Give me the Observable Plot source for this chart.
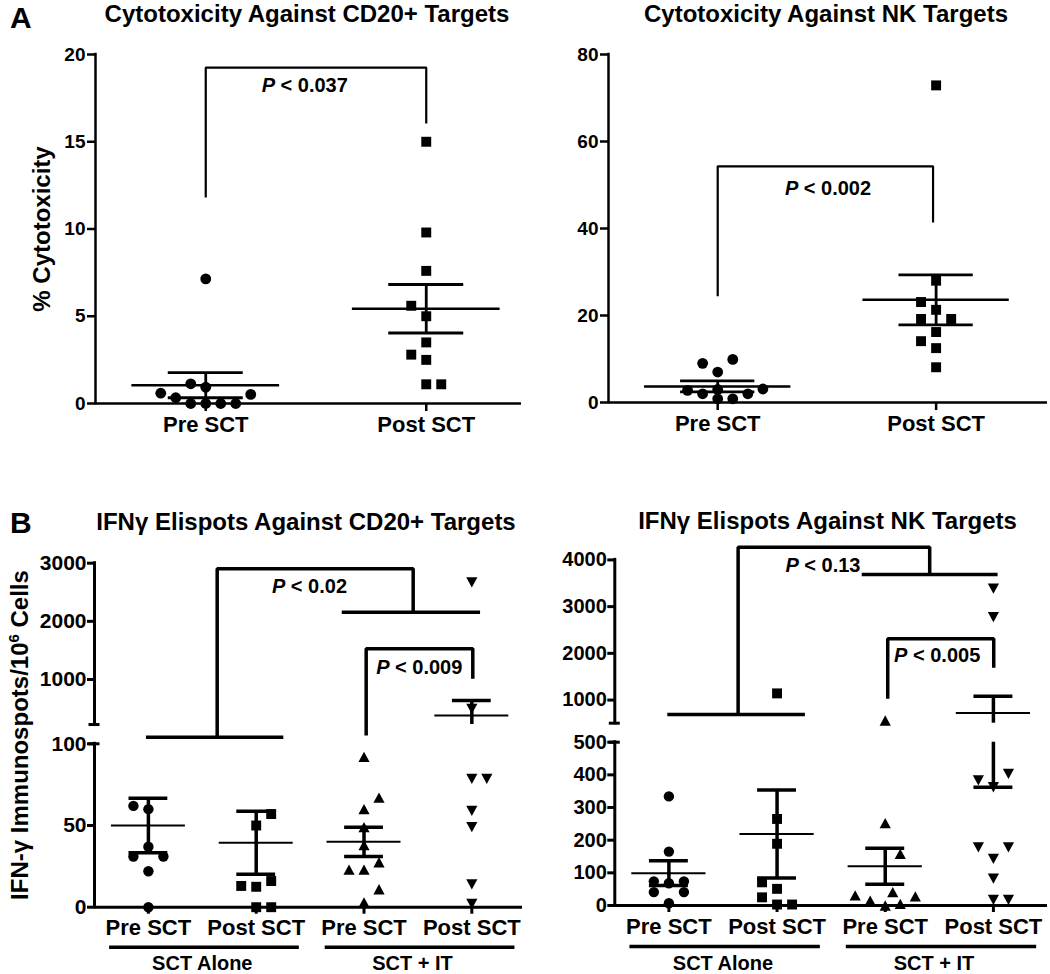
<!DOCTYPE html>
<html><head><meta charset="utf-8">
<script src="https://cdn.jsdelivr.net/npm/d3@7"></script>
<script src="https://cdn.jsdelivr.net/npm/@observablehq/plot@0.6"></script>
<style>
html,body{margin:0;padding:0;background:#fff;}
#fig{position:relative;width:1050px;height:974px;background:#fff;overflow:hidden;font-family:"Liberation Sans",Arial,Helvetica,sans-serif;font-weight:bold;color:#000;}
.lbl{position:absolute;white-space:nowrap;line-height:1;z-index:2;}
.panel{position:absolute;z-index:1;}
.sup{font-size:15px;position:relative;top:-9px;}
</style></head><body><div id="fig"></div>
<script>
// ---------- DATA ----------
const catLabelsA = ["Pre SCT", "Post SCT"];
const catLabelsB = ["Pre SCT", "Post SCT", "Pre SCT", "Post SCT"];
const groupLabelsB = ["SCT Alone", "SCT + IT"];

// A: Cytotoxicity against CD20+ targets (% cytotoxicity)
const cd20CytoValues = [[7.14, 1.13, 0.93, 0.59, 0.52, 0.33, 0, 0, 0, 0], [15.0, 9.8, 7.6, 5.6, 5.0, 3.5, 2.8, 2.5, 1.1, 1.1]];
const cd20CytoSlots  = [[0, -1, 0, -3, 3, -2, -1, 0, 1, 2], [0, 0, 0, -1, 0, 0, -1, 0, 0, 1]];
const cd20CytoMean = [1.05, 5.43];
const cd20CytoSem  = [0.72, 1.39];
const cd20CytoTicks = [0, 5, 10, 15, 20];
const cd20CytoBracket = [[0, 11.8], [0, 19.25], [1, 19.25], [1, 16.05]];
const cd20CytoP = [{x: 0.449, y: 18.22, text: "P < 0.037"}];

// A: Cytotoxicity against NK targets
const nkCytoValues = [[9.9, 9.0, 7.0, 3.1, 3.0, 2.8, 2.0, 2.0, 0.85, 0.85], [72.9, 28.0, 23.1, 21.3, 19.2, 19.2, 16.2, 14.1, 12.5, 8.1]];
const nkCytoSlots  = [[1, -1, 0, 3, 0, -2, -1, 2, 0, 1], [0, 0, -1, 0, -1, 1, 0, -1, 0, 0]];
const nkCytoMean = [3.7, 23.6];
const nkCytoSem  = [1.25, 5.75];
const nkCytoTicks = [0, 20, 40, 60, 80];
const nkCytoBracket = [[0, 24.4], [0, 54.3], [0.986, 54.3], [0.986, 41.4]];
const nkCytoP = [{x: 0.505, y: 49.2, text: "P < 0.002"}];

// B: IFN-gamma Elispots against CD20+ targets (spots / 10^6 cells), broken axis
const cd20SpotValues = [[62, 60, 37, 31, 31, 22, 0], [57, 50, 16, 13, 12.5, 0, 0], [92, 67, 60, 49, 38, 27.5, 23, 23, 11, 3], [2670, 496, 78.5, 78.5, 59, 49, 14, 2]];
const cd20SpotSlots  = [[-1, 0, 0, -1, 1, 0, 0], [1, 0, 1, -1, 0, 0, 1], [0, 1, 0, 0, 0, 1, -1, 0, 1, 0], [0, 0, 0, 1, 0, 0, 0, 0]];
const cd20SpotMean = [50, 39.4, 40, 381];
const cd20SpotSem  = [16.7, 19.3, 9, 258];
const cd20SpotTicks = [0, 50, 100, 1000, 2000, 3000];
const cd20SpotSegments = [[0, 100], [225, 3000]];
const cd20SpotBreaks = [0, 100, 225, 3000];
const cd20SpotBreakScale = [0, 1425, 1593, 3000];
const cd20SpotBrackets = [
  [[0.638, 143], [0.638, 2904], [2.456, 2904], [2.456, 2157]],
  [[2.02, 154], [2.02, 1528], [3.009, 1528], [3.009, 1012]]
];
const cd20SpotBaseLines = [[-0.018, 1.256, 143], [1.798, 3.081, 2157]];
const cd20SpotP = [{x: 1.494, y: 2591, text: "P < 0.02"}, {x: 2.512, y: 1211, text: "P < 0.009"}];

// B: IFN-gamma Elispots against NK targets, broken axis
const nkSpotValues = [[334, 165, 74, 74, 68, 41, 41, 7], [1143, 265, 189, 71, 51, 25, 3, 3], [563, 252, 158, 41, 31, 28, 15, 5, 0], [3385, 2776, 403, 383, 362, 178, 178, 143, 82, 17, 17]];
const nkSpotSlots  = [[0, 0, -1, 1, 0, -1, 1, 0], [0, 0, 0, -1, 0, -1, 0, 1], [0, 0, 1, 0.5, -2, 2, -1, 1, 0], [0, 0, 1, -1, 0, -1, 1, 0, 0, 0, 1]];
const nkSpotMean = [99, 219, 120, 722];
const nkSpotSem  = [38, 135, 55, 360];
const nkSpotTicks = [0, 100, 200, 300, 400, 500, 1000, 2000, 3000, 4000];
const nkSpotSegments = [[0, 500], [505, 4000]];
const nkSpotBreaks = [0, 500, 505, 4000];
const nkSpotBreakScale = [0, 1890, 2110, 4000];
const nkSpotBrackets = [
  [[0.64, 691], [0.64, 4272], [2.411, 4272], [2.411, 3687]],
  [[2.023, 1027], [2.023, 2311], [3.003, 2311], [3.003, 1691]]
];
const nkSpotBaseLines = [[-0.01, 1.262, 691], [1.787, 3.043, 3687]];
const nkSpotP = [{x: 1.424, y: 3880, text: "P < 0.13"}, {x: 2.48, y: 1954, text: "P < 0.005"}];

const groupsB = [{label: groupLabelsB[0], x1: -0.36, x2: 1.4, cx: 0.5}, {label: groupLabelsB[1], x1: 1.64, x2: 3.4, cx: 2.45}];

// ---------- SYMBOLS ----------
function triangleSymbol(up) {
  return {draw(ctx, size) {
    const r = Math.sqrt(size / Math.PI);
    const w = r, h = r * 0.92;
    if (up) { ctx.moveTo(0, -h); ctx.lineTo(w, h); ctx.lineTo(-w, h); }
    else { ctx.moveTo(0, h); ctx.lineTo(w, -h); ctx.lineTo(-w, -h); }
    ctx.closePath();
  }};
}
const triUp = triangleSymbol(true), triDown = triangleSymbol(false);

const FONT = "'Liberation Sans', Arial, Helvetica, sans-serif";
const fig = document.getElementById("fig");

function buildPanel(c) {
  const W = 525;
  // broken-axis transform (identity for a single segment)
  const T = d3.scaleLinear().domain(c.yBreaks).range(c.yBreakScale);
  const pts = c.values.flatMap((vals, g) => vals.map((v, i) => ({g, v, x: g + c.slots[g][i] * c.jitter})));
  const stats = c.means.map((m, g) => ({g, m, s: c.sems[g]}));
  const segs = c.segments;
  const inSeg = v => segs.some(([a, b]) => v >= a && v <= b);
  const bars = stats.flatMap(d => segs.map(([a, b]) => ({g: d.g, y1: Math.max(a, d.m - d.s), y2: Math.min(b, d.m + d.s)}))).filter(e => e.y2 > e.y1);
  const caps = stats.flatMap(d => [d.m - d.s, d.m + d.s].filter(inSeg).map(y => ({g: d.g, y})));
  const x0 = c.xDomain[0];
  const fmt = d => String(Math.round(T.invert(d)));
  const marks = [
    Plot.ruleY([0], {stroke: "black", strokeWidth: c.axisW}),
    Plot.ruleX(segs, {x: () => x0, y1: d => d[0], y2: d => d[1], stroke: "black", strokeWidth: c.axisW, strokeLinecap: "square"}),
    // axis marks are not passed through the scale transform, so their ticks are given on the transformed scale
    Plot.axisY({ticks: c.yTicks.map(T), tickSize: c.yTickSize, tickPadding: c.yTickPad, fontSize: c.yFont, strokeWidth: c.axisW, tickFormat: fmt, label: null}),
    Plot.axisX({ticks: c.xLabels.map((_, i) => i), tickSize: c.xTickSize, tickPadding: c.xTickPad, fontSize: c.xFont, strokeWidth: c.axisW, tickFormat: i => c.xLabels[i], label: null}),
  ];
  if (c.endCaps) marks.push(Plot.axisY({ticks: c.endCaps.map(T), tickSize: 11, dx: 5.5, strokeWidth: c.axisW, tickFormat: () => "", label: null}));
  marks.push(
    Plot.ruleX(bars, {x: "g", y1: "y1", y2: "y2", stroke: "black", strokeWidth: c.barW}),
    Plot.ruleY(caps, {y: "y", x1: d => d.g - c.capHalf, x2: d => d.g + c.capHalf, stroke: "black", strokeWidth: c.barW}),
    Plot.ruleY(stats, {y: "m", x1: d => d.g - c.meanHalf, x2: d => d.g + c.meanHalf, stroke: "black", strokeWidth: c.meanW})
  );
  c.symbols.forEach((sym, g) => {
    marks.push(Plot.dot(pts.filter(d => d.g === g), {x: "x", y: "v", symbol: sym, r: c.r[g], fill: "black", stroke: "none"}));
  });
  c.brackets.forEach(b => marks.push(Plot.line(b, {x: d => d[0], y: d => d[1], stroke: "black", strokeWidth: c.bracketW, strokeLinejoin: "miter", strokeLinecap: "butt"})));
  if (c.baseLines) marks.push(Plot.ruleY(c.baseLines, {x1: d => d[0], x2: d => d[1], y: d => d[2], stroke: "black", strokeWidth: c.bracketW}));
  marks.push(Plot.text(c.pLabels, {x: "x", y: "y", text: "text", fontSize: 20, fontWeight: "bold", lineAnchor: "middle"}));
  if (c.groups) {
    marks.push(Plot.ruleY(c.groups, {y: () => 0, x1: "x1", x2: "x2", dy: c.groupLineDy, stroke: "black", strokeWidth: 3.5}));
    marks.push(Plot.text(c.groups, {x: "cx", y: () => 0, text: "label", dy: c.groupTextDy, lineAnchor: "bottom", fontSize: 20, fontWeight: "bold"}));
  }
  const yTop = c.yBreakScale[c.yBreakScale.length - 1];
  const yOpts = {domain: [0, yTop], range: c.yRange};
  if (c.yBreaks.length > 2) yOpts.transform = T;
  const svg = Plot.plot({
    width: W, height: c.height,
    marginLeft: c.xRange[0], marginRight: W - c.xRange[1],
    marginTop: c.yRange[1], marginBottom: c.height - c.yRange[0],
    x: {domain: c.xDomain, range: c.xRange},
    y: yOpts,
    style: `background: transparent; color: #000; font-family: ${FONT}; font-weight: bold; overflow: visible;`,
    marks
  });
  // italic "P" in the p-value labels
  svg.querySelectorAll("text").forEach(t => {
    if (t.childElementCount === 0 && /^P </.test(t.textContent)) {
      const rest = t.textContent.slice(1);
      t.textContent = "";
      const ts = document.createElementNS("http://www.w3.org/2000/svg", "tspan");
      ts.setAttribute("font-style", "italic");
      ts.textContent = "P";
      t.append(ts, rest);
    }
  });
  const wrap = document.createElement("div");
  wrap.className = "panel";
  wrap.style.left = c.left + "px";
  wrap.style.top = c.top + "px";
  wrap.style.width = W + "px";
  wrap.appendChild(svg);
  fig.appendChild(wrap);
}

buildPanel({
  left: 0, top: 40, height: 410,
  xDomain: [-0.5, 1.432], xRange: [95, 521],
  yBreaks: [0, 20], yBreakScale: [0, 20], yRange: [363, 14], segments: [[0, 20]],
  values: cd20CytoValues, slots: cd20CytoSlots, means: cd20CytoMean, sems: cd20CytoSem,
  symbols: ["circle", "square"], r: [5.4, 5.6], jitter: 0.068,
  yTicks: cd20CytoTicks, yTickSize: 8, yTickPad: 2, yFont: 19,
  xLabels: catLabelsA, xTickSize: 8, xTickPad: 5, xFont: 22,
  axisW: 2.5, barW: 2.8, meanW: 2.5, meanHalf: 0.335, capHalf: 0.17,
  brackets: [cd20CytoBracket], bracketW: 2.2, pLabels: cd20CytoP
});
buildPanel({
  left: 525, top: 40, height: 410,
  xDomain: [-0.5, 1.51], xRange: [83, 522],
  yBreaks: [0, 80], yBreakScale: [0, 80], yRange: [362, 14], segments: [[0, 80]],
  values: nkCytoValues, slots: nkCytoSlots, means: nkCytoMean, sems: nkCytoSem,
  symbols: ["circle", "square"], r: [5.4, 5.6], jitter: 0.069,
  yTicks: nkCytoTicks, yTickSize: 8, yTickPad: 2, yFont: 19,
  xLabels: catLabelsA, xTickSize: 8, xTickPad: 5, xFont: 22,
  axisW: 2.5, barW: 2.8, meanW: 2.5, meanHalf: 0.335, capHalf: 0.17,
  brackets: [nkCytoBracket], bracketW: 2.2, pLabels: nkCytoP
});
buildPanel({
  left: 0, top: 535, height: 439,
  xDomain: [-0.5, 3.47], xRange: [94, 522],
  yBreaks: cd20SpotBreaks, yBreakScale: cd20SpotBreakScale, yRange: [371.7, 27.7], segments: cd20SpotSegments, endCaps: [100, 225],
  values: cd20SpotValues, slots: cd20SpotSlots, means: cd20SpotMean, sems: cd20SpotSem,
  symbols: ["circle", "square", triUp, triDown], r: [5.2, 5.6, 5.6, 5.6], jitter: 0.139,
  yTicks: cd20SpotTicks, yTickSize: 7, yTickPad: 1, yFont: 21,
  xLabels: catLabelsB, xTickSize: 7, xTickPad: 5, xFont: 22,
  axisW: 3, barW: 3.5, meanW: 2, meanHalf: 0.343, capHalf: 0.18,
  brackets: cd20SpotBrackets, baseLines: cd20SpotBaseLines, bracketW: 3.5, pLabels: cd20SpotP,
  groups: groupsB, groupLineDy: 40, groupTextDy: 62.8
});
buildPanel({
  left: 525, top: 535, height: 439,
  xDomain: [-0.5, 3.5], xRange: [89.3, 522],
  yBreaks: nkSpotBreaks, yBreakScale: nkSpotBreakScale, yRange: [370, 24.4], segments: nkSpotSegments, endCaps: [500, 505],
  values: nkSpotValues, slots: nkSpotSlots, means: nkSpotMean, sems: nkSpotSem,
  symbols: ["circle", "square", triUp, triDown], r: [5.2, 5.6, 5.6, 5.6], jitter: 0.139,
  yTicks: nkSpotTicks, yTickSize: 7, yTickPad: 1, yFont: 20,
  xLabels: catLabelsB, xTickSize: 7, xTickPad: 5.6, xFont: 22,
  axisW: 3, barW: 3.5, meanW: 2, meanHalf: 0.343, capHalf: 0.18,
  brackets: nkSpotBrackets, baseLines: nkSpotBaseLines, bracketW: 3.5, pLabels: nkSpotP,
  groups: groupsB, groupLineDy: 41, groupTextDy: 64
});

// ---------- HTML TEXT ----------
function label(html, o) {
  const d = document.createElement("div");
  d.className = "lbl";
  d.innerHTML = html;
  d.style.fontSize = o.size + "px";
  d.style.left = o.x + "px";
  d.style.top = o.y + "px";
  if (o.rotate) d.style.transform = "translate(-50%,-50%) rotate(-90deg)";
  else if (o.center) d.style.transform = "translateX(-50%)";
  fig.appendChild(d);
}
label("A", {x: 10, y: 2.6, size: 30});
label("B", {x: 10, y: 507.6, size: 30});
label("Cytotoxicity Against CD20+ Targets", {x: 307, y: 1.7, size: 24, center: true});
label("Cytotoxicity Against NK Targets", {x: 826, y: 1.7, size: 24, center: true});
label("IFN&gamma; Elispots Against CD20+ Targets", {x: 306, y: 509.7, size: 24, center: true});
label("IFN&gamma; Elispots Against NK Targets", {x: 827.5, y: 508.7, size: 24, center: true});
label("% Cytotoxicity", {x: 41.5, y: 229, size: 24, rotate: true});
label("IFN-&gamma; Immunospots/10<span class=\"sup\">6</span> Cells", {x: 19.5, y: 735, size: 24, rotate: true});
</script></body></html>
